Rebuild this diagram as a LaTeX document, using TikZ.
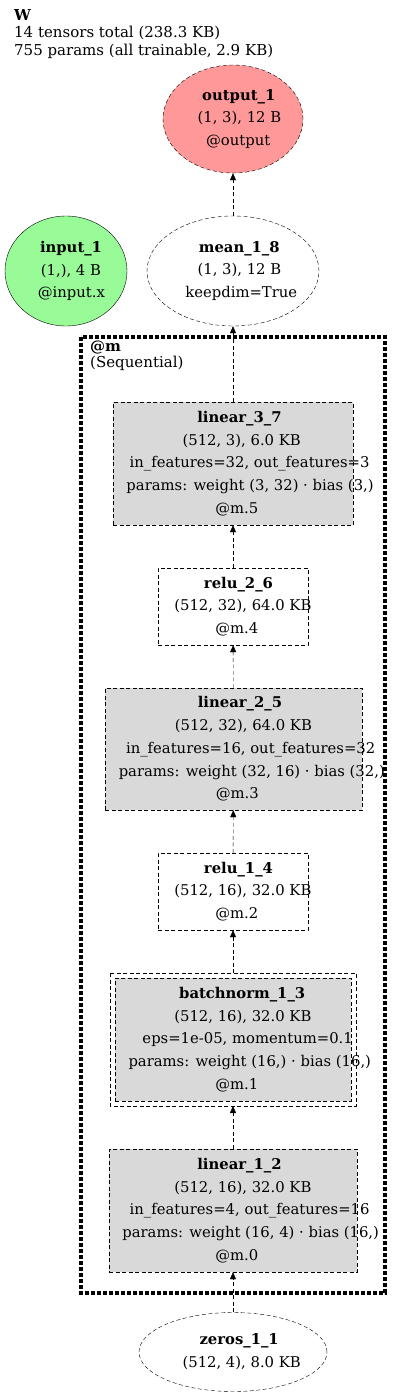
\documentclass[tikz,border=0pt]{standalone}
\usepackage{fontspec}
\setmainfont{DejaVu Serif}
\usetikzlibrary{shapes.geometric,arrows.meta}
\definecolor{outred}{HTML}{FF9999}
\definecolor{ingreen}{HTML}{98FB98}
\definecolor{modgray}{HTML}{D9D9D9}
% eine Zeile, leicht nach rechts versetzt wie bei graphviz
\newcommand{\gvrow}[1]{\setbox0\hbox{#1}\hspace*{0.13\wd0}\box0}
\begin{document}
\begin{tikzpicture}[x=1pt,y=-1pt,
    txt/.style={font=\fontsize{14.8}{22.75}\selectfont,align=center,inner sep=0pt,xshift=1pt},
    oval/.style={ellipse,draw,dash pattern=on 4pt off 2.5pt,inner sep=0pt},
    layer/.style={rectangle,draw,dash pattern=on 4pt off 2.5pt,fill=modgray,inner sep=0pt},
    plain/.style={rectangle,draw,dash pattern=on 4pt off 2.5pt,fill=white,inner sep=0pt},
    flow/.style={dash pattern=on 4pt off 2.5pt,-{Triangle[length=7pt,width=6pt]}}]
    \useasboundingbox (0,0) rectangle (400,1397);
    % Titel
    \node[anchor=north west,inner sep=0pt,align=left,font=\fontsize{15}{17.5}\selectfont] (title) at (14,9)
        {\textbf{W}\\14 tensors total (238.3 KB)\\755 params (all trainable, 2.9 KB)};
    % Ein- und Ausgabe
    \node[oval,fill=outred,minimum width=140pt,minimum height=108pt] (output1) at (233,119) {};
    \node[txt] (output1text) at (output1)
        {\gvrow{\textbf{output\_1}}\\\gvrow{(1, 3), 12 B}\\\gvrow{@output}};
    \node[ellipse,draw,fill=ingreen,inner sep=0pt,minimum width=122pt,minimum height=110pt] (input1) at (66,271) {};
    \node[txt] (input1text) at (input1)
        {\gvrow{\textbf{input\_1}}\\\gvrow{(1,), 4 B}\\\gvrow{@input.x}};
    \node[oval,fill=white,minimum width=172pt,minimum height=110pt] (mean18) at (233,271) {};
    \node[txt] (mean18text) at (mean18)
        {\gvrow{\textbf{mean\_1\_8}}\\\gvrow{(1, 3), 12 B}\\\gvrow{keepdim=True}};
    % Modul @m
    \draw[line width=4.5pt,dash pattern=on 4pt off 2pt] (81,337) rectangle (385,1293);
    \node[anchor=north west,inner sep=0pt,align=left,font=\fontsize{15}{16}\selectfont] (mlabel) at (90,341)
        {\textbf{@m}\\(Sequential)};
    \node[layer,minimum width=240pt,minimum height=123pt] (linear37) at (233,463.5) {};
    \node[txt] (linear37text) at (linear37)
        {\gvrow{\textbf{linear\_3\_7}}\\\gvrow{(512, 3), 6.0 KB}\\\gvrow{in\_features=32, out\_features=3}\\\gvrow{params: weight (3, 32) · bias (3,)}\\\gvrow{@m.5}};
    \node[plain,minimum width=150pt,minimum height=77pt] (relu26) at (233,606.5) {};
    \node[txt] (relu26text) at (relu26)
        {\gvrow{\textbf{relu\_2\_6}}\\\gvrow{(512, 32), 64.0 KB}\\\gvrow{@m.4}};
    \node[layer,minimum width=257pt,minimum height=122pt] (linear25) at (233.5,749) {};
    \node[txt] (linear25text) at (linear25)
        {\gvrow{\textbf{linear\_2\_5}}\\\gvrow{(512, 32), 64.0 KB}\\\gvrow{in\_features=16, out\_features=32}\\\gvrow{params: weight (32, 16) · bias (32,)}\\\gvrow{@m.3}};
    \node[plain,minimum width=150pt,minimum height=77pt] (relu14) at (233,891.5) {};
    \node[txt] (relu14text) at (relu14)
        {\gvrow{\textbf{relu\_1\_4}}\\\gvrow{(512, 16), 32.0 KB}\\\gvrow{@m.2}};
    \node[layer,minimum width=236pt,minimum height=123pt,outer sep=5pt] (batchnorm13) at (233,1039.5) {};
    \draw[dash pattern=on 4pt off 2.5pt] (batchnorm13.north west) rectangle (batchnorm13.south east);
    \node[txt] (batchnorm13text) at (batchnorm13)
        {\gvrow{\textbf{batchnorm\_1\_3}}\\\gvrow{(512, 16), 32.0 KB}\\\gvrow{eps=1e-05, momentum=0.1}\\\gvrow{params: weight (16,) · bias (16,)}\\\gvrow{@m.1}};
    \node[layer,minimum width=248pt,minimum height=123pt] (linear12) at (233,1210.5) {};
    \node[txt] (linear12text) at (linear12)
        {\gvrow{\textbf{linear\_1\_2}}\\\gvrow{(512, 16), 32.0 KB}\\\gvrow{in\_features=4, out\_features=16}\\\gvrow{params: weight (16, 4) · bias (16,)}\\\gvrow{@m.0}};
    % Quelle
    \node[oval,fill=white,minimum width=188pt,minimum height=79pt] (zeros11) at (233,1352) {};
    \node[txt] (zeros11text) at (zeros11)
        {\gvrow{\textbf{zeros\_1\_1}}\\\gvrow{(512, 4), 8.0 KB}};
    % Kanten
    \draw[flow] (zeros11) -- (linear12);
    \draw[flow] (linear12) -- (batchnorm13);
    \draw[flow] (batchnorm13) -- (relu14);
    \draw[flow] (relu14) -- (linear25);
    \draw[flow] (linear25) -- (relu26);
    \draw[flow] (relu26) -- (linear37);
    \draw[flow] (linear37) -- (mean18);
    \draw[flow] (mean18) -- (output1);
\end{tikzpicture}
\end{document}
